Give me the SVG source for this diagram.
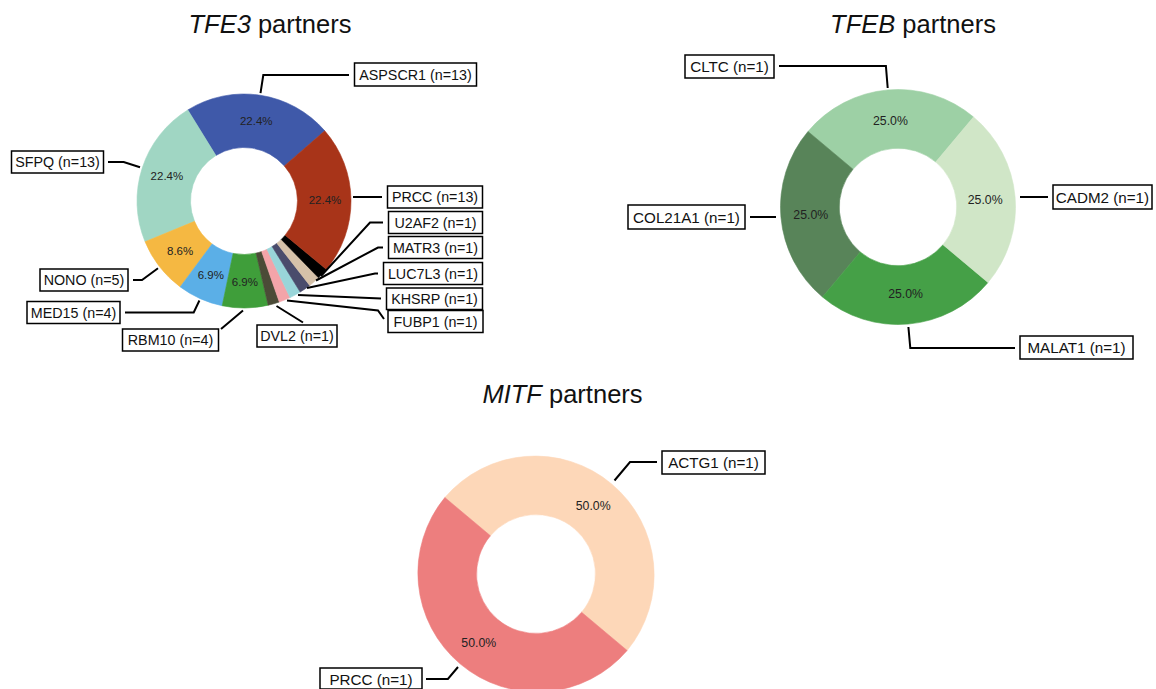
<svg xmlns="http://www.w3.org/2000/svg" width="1156" height="689" viewBox="0 0 1156 689">
<style>
text{font-family:"Liberation Sans",Arial,Helvetica,sans-serif;fill:#111}
.title{font-size:25.5px;text-anchor:middle}
.title .g{font-style:italic}
.pct{font-size:11.5px;text-anchor:middle;fill:#222}
.pct2{font-size:12.3px;text-anchor:middle;fill:#222}
.lbl rect{fill:#fff;stroke:#000;stroke-width:1.5}
.lbl text{font-size:14.3px;text-anchor:middle}
.lbl2 rect{fill:#fff;stroke:#000;stroke-width:1.5}
.lbl2 text{font-size:15.2px;text-anchor:middle}
.wedge path{stroke-width:0.6;stroke-linejoin:round}
#connectors path{fill:none;stroke:#000;stroke-width:2}
</style>
<rect width="1156" height="689" fill="#fff"/>

<!-- Titles -->
<text class="title" x="270" y="33"><tspan class="g">TFE3</tspan> partners</text>
<text class="title" x="913" y="33"><tspan class="g">TFEB</tspan> partners</text>
<text class="title" x="562.5" y="403"><tspan class="g">MITF</tspan> partners</text>

<!-- TFE3 donut -->
<g id="tfe3-chart" class="wedge">
<g id="w-aspscr1"><path fill="#3f59a9" stroke="#3f59a9" d="M324.75 130.80A107 107 0 0 0 187.79 109.95L215.90 155.48A53.5 53.5 0 0 1 284.38 165.90Z"/></g>
<g id="w-sfpq"><path fill="#a0d6c3" stroke="#a0d6c3" d="M187.79 109.95A107 107 0 0 0 145.06 241.73L194.53 221.37A53.5 53.5 0 0 1 215.90 155.48Z"/></g>
<g id="w-nono"><path fill="#f5b842" stroke="#f5b842" d="M145.06 241.73A107 107 0 0 0 180.22 286.91L212.11 243.96A53.5 53.5 0 0 1 194.53 221.37Z"/></g>
<g id="w-med15"><path fill="#5bafe7" stroke="#5bafe7" d="M180.22 286.91A107 107 0 0 0 222.19 305.75L233.10 253.38A53.5 53.5 0 0 1 212.11 243.96Z"/></g>
<g id="w-rbm10"><path fill="#3f9e3a" stroke="#3f9e3a" d="M222.19 305.75A107 107 0 0 0 268.19 305.23L256.10 253.11A53.5 53.5 0 0 1 233.10 253.38Z"/></g>
<g id="w-dvl2"><path fill="#4b4b37" stroke="#4b4b37" d="M268.19 305.23A107 107 0 0 0 279.32 302.00L261.66 251.50A53.5 53.5 0 0 1 256.10 253.11Z"/></g>
<g id="w-fubp1"><path fill="#f3a4a9" stroke="#f3a4a9" d="M279.32 302.00A107 107 0 0 0 290.03 297.59L267.02 249.29A53.5 53.5 0 0 1 261.66 251.50Z"/></g>
<g id="w-khsrp"><path fill="#99d5d9" stroke="#99d5d9" d="M290.03 297.59A107 107 0 0 0 300.21 292.05L272.10 246.52A53.5 53.5 0 0 1 267.02 249.29Z"/></g>
<g id="w-luc7l3"><path fill="#4a4c6c" stroke="#4a4c6c" d="M300.21 292.05A107 107 0 0 0 309.73 285.43L276.86 243.22A53.5 53.5 0 0 1 272.10 246.52Z"/></g>
<g id="w-matr3"><path fill="#d5c1a9" stroke="#d5c1a9" d="M309.73 285.43A107 107 0 0 0 318.49 277.82L281.25 239.41A53.5 53.5 0 0 1 276.86 243.22Z"/></g>
<g id="w-u2af2"><path fill="#000" stroke="#000" d="M318.49 277.82A107 107 0 0 0 326.33 269.36L285.16 235.18A53.5 53.5 0 0 1 281.25 239.41Z"/></g>
<g id="w-prcc"><path fill="#a83419" stroke="#a83419" d="M326.33 269.36A107 107 0 0 0 324.75 130.80L284.38 165.90A53.5 53.5 0 0 1 285.16 235.18Z"/></g>
<text class="pct" x="256.2" y="125">22.4%</text>
<text class="pct" x="166.9" y="180">22.4%</text>
<text class="pct" x="180.1" y="254.8">8.6%</text>
<text class="pct" x="210.8" y="278.9">6.9%</text>
<text class="pct" x="244.9" y="286">6.9%</text>
<text class="pct" x="325" y="204.1">22.4%</text>
</g>

<!-- TFEB donut -->
<g id="tfeb-chart" class="wedge">
<g id="w-cltc"><path fill="#9dd0a5" stroke="#9dd0a5" d="M973.53 116.99A117.5 117.5 0 0 0 807.99 131.47L853.00 169.24A58.75 58.75 0 0 1 935.76 162.00Z"/></g>
<g id="w-col21a1"><path fill="#588459" stroke="#588459" d="M807.99 131.47A117.5 117.5 0 0 0 822.47 297.01L860.24 252.00A58.75 58.75 0 0 1 853.00 169.24Z"/></g>
<g id="w-malat1"><path fill="#45a047" stroke="#45a047" d="M822.47 297.01A117.5 117.5 0 0 0 988.01 282.53L943.00 244.76A58.75 58.75 0 0 1 860.24 252.00Z"/></g>
<g id="w-cadm2"><path fill="#d0e6c7" stroke="#d0e6c7" d="M988.01 282.53A117.5 117.5 0 0 0 973.53 116.99L935.76 162.00A58.75 58.75 0 0 1 943.00 244.76Z"/></g>
<text class="pct2" x="890.4" y="124.6">25.0%</text>
<text class="pct2" x="810.8" y="218.9">25.0%</text>
<text class="pct2" x="905.6" y="298">25.0%</text>
<text class="pct2" x="985.2" y="203.7">25.0%</text>
</g>

<!-- MITF donut -->
<g id="mitf-chart" class="wedge">
<g id="w-actg1"><path fill="#fdd7b8" stroke="#fdd7b8" d="M627.15 650.49A119 119 0 0 0 444.85 497.51L490.42 535.75A59.5 59.5 0 0 1 581.58 612.25Z"/></g>
<g id="w-prcc-mitf"><path fill="#ed7e7e" stroke="#ed7e7e" d="M444.85 497.51A119 119 0 0 0 627.15 650.49L581.58 612.25A59.5 59.5 0 0 1 490.42 535.75Z"/></g>
<text class="pct2" x="593.2" y="510.1">50.0%</text>
<text class="pct2" x="478.8" y="646.5">50.0%</text>
</g>

<!-- Connectors -->
<g id="connectors">
<path d="M260.5 93.2L263.3 75H349"/>
<path d="M140 167.3L123.7 162H108"/>
<path d="M158 268.2L142 280H133"/>
<path d="M199.4 300.5L193.7 312.5H125"/>
<path d="M243 310.5L221 329"/>
<path d="M276.5 306L303 322.5"/>
<path d="M353 197H382"/>
<path d="M321 276L370 222.5H383"/>
<path d="M316 280.5L378 247.5H383"/>
<path d="M307 288L375 273.5H378"/>
<path d="M298 295L381 298.5"/>
<path d="M287 300.5L378 310.5L384 319"/>
<path d="M887.7 88L885.9 66H779"/>
<path d="M1020 197H1048"/>
<path d="M776 217H750"/>
<path d="M908.4 327L910.3 348H1015"/>
<path d="M614.5 480.5L630 462H657"/>
<path d="M458 667L447.9 679H426"/>
</g>

<!-- TFE3 labels -->
<g id="n-aspscr1" class="lbl"><rect x="354.5" y="63" width="122" height="23"/><text x="415.5" y="79.7">ASPSCR1 (n=13)</text></g>
<g id="n-sfpq" class="lbl"><rect x="11.5" y="151" width="92" height="22"/><text x="57.5" y="167.2">SFPQ (n=13)</text></g>
<g id="n-nono" class="lbl"><rect x="40" y="269" width="88" height="22"/><text x="84" y="285.2">NONO (n=5)</text></g>
<g id="n-med15" class="lbl"><rect x="27" y="301.5" width="93" height="22"/><text x="73.5" y="317.7">MED15 (n=4)</text></g>
<g id="n-rbm10" class="lbl"><rect x="122.5" y="329" width="96" height="22"/><text x="170.5" y="345.2">RBM10 (n=4)</text></g>
<g id="n-dvl2" class="lbl"><rect x="257" y="325" width="80" height="22"/><text x="297" y="341.2">DVL2 (n=1)</text></g>
<g id="n-prcc" class="lbl"><rect x="387.5" y="186" width="95" height="22"/><text x="435" y="202.2">PRCC (n=13)</text></g>
<g id="n-u2af2" class="lbl"><rect x="388.5" y="211.5" width="94" height="22"/><text x="435.5" y="227.7">U2AF2 (n=1)</text></g>
<g id="n-matr3" class="lbl"><rect x="388.5" y="236.5" width="94" height="22"/><text x="435.5" y="252.7">MATR3 (n=1)</text></g>
<g id="n-luc7l3" class="lbl"><rect x="383.5" y="262.5" width="99" height="22"/><text x="433" y="278.7">LUC7L3 (n=1)</text></g>
<g id="n-khsrp" class="lbl"><rect x="386.5" y="288" width="96" height="21.5"/><text x="434.5" y="304">KHSRP (n=1)</text></g>
<g id="n-fubp1" class="lbl"><rect x="388" y="310.5" width="95" height="22"/><text x="435.5" y="326.7">FUBP1 (n=1)</text></g>

<!-- TFEB labels -->
<g id="n-cltc" class="lbl2"><rect x="685" y="55" width="89" height="23"/><text x="729.5" y="72">CLTC (n=1)</text></g>
<g id="n-cadm2" class="lbl2"><rect x="1053" y="185" width="99" height="24"/><text x="1102.5" y="202.5">CADM2 (n=1)</text></g>
<g id="n-col21a1" class="lbl2"><rect x="628" y="205" width="117" height="24"/><text x="686.5" y="222.5">COL21A1 (n=1)</text></g>
<g id="n-malat1" class="lbl2"><rect x="1020" y="336" width="113" height="23"/><text x="1076.5" y="353">MALAT1 (n=1)</text></g>

<!-- MITF labels -->
<g id="n-actg1" class="lbl2"><rect x="662" y="451" width="103" height="23"/><text x="713.5" y="468">ACTG1 (n=1)</text></g>
<g id="n-prcc-mitf" class="lbl2"><rect x="320" y="668" width="102" height="21"/><text x="371" y="684.5">PRCC (n=1)</text></g>
</svg>
